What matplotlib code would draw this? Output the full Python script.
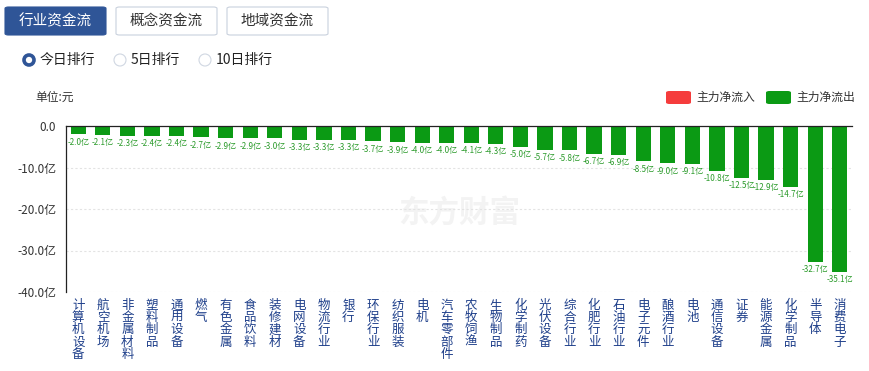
import matplotlib.pyplot as plt
from matplotlib.patches import FancyBboxPatch, Ellipse
from matplotlib.ticker import FixedLocator

plt.rcParams['font.family'] = ['Noto Sans CJK SC', 'DejaVu Sans']

industries = ['计算机设备', '航空机场', '非金属材料', '塑料制品', '通用设备', '燃气', '有色金属',
              '食品饮料', '装修建材', '电网设备', '物流行业', '银行', '环保行业', '纺织服装',
              '电机', '汽车零部件', '农牧饲渔', '生物制品', '化学制药', '光伏设备', '综合行业',
              '化肥行业', '石油行业', '电子元件', '酿酒行业', '电池', '通信设备', '证券',
              '能源金属', '化学制品', '半导体', '消费电子']
net_flow = [-2.0, -2.1, -2.3, -2.4, -2.4, -2.7, -2.9, -2.9, -3.0, -3.3, -3.3, -3.3, -3.7, -3.9,
            -4.0, -4.0, -4.1, -4.3, -5.0, -5.7, -5.8, -6.7, -6.9, -8.5, -9.0, -9.1, -10.8,
            -12.5, -12.9, -14.7, -32.7, -35.1]
y_ticks = [0, -10, -20, -30, -40]
y_tick_labels = ['0.0', '-10.0亿', '-20.0亿', '-30.0亿', '-40.0亿']
tabs = ['行业资金流', '概念资金流', '地域资金流']
ranks = ['今日排行', '5日排行', '10日排行']

W, H = 870, 371
GREEN = '#0b9a14'
RED = '#f53c3c'
BLUE = '#2f5597'


def fx(x):
    return x / W


def fy(y):
    return 1 - y / H


fig = plt.figure(figsize=(W / 100, H / 100), dpi=100)

# tab buttons
for i, name in enumerate(tabs):
    x0 = 5 + i * 111
    active = i == 0
    box = FancyBboxPatch((fx(x0), fy(35)), fx(101), 28 / H,
                         boxstyle='round,pad=0,rounding_size=0.004',
                         transform=fig.transFigure,
                         facecolor=BLUE if active else 'white',
                         edgecolor=BLUE if active else '#c9d1dd', lw=0.8)
    fig.patches.append(box)
    fig.text(fx(x0 + 50.5), fy(21), name, ha='center', va='center', fontsize=10.5,
             color='white' if active else '#333333')

# radio options
for i, (cx, tx) in enumerate([(29, 40), (120, 131), (205, 216)]):
    if i == 0:
        fig.patches.append(Ellipse((fx(cx), fy(60)), 10 / W, 10 / H, transform=fig.transFigure,
                                   facecolor='white', edgecolor=BLUE, lw=2.6))
    else:
        fig.patches.append(Ellipse((fx(cx), fy(60)), 12 / W, 12 / H, transform=fig.transFigure,
                                   facecolor='white', edgecolor='#d0d7e2', lw=0.8))
    fig.text(fx(tx), fy(60), ranks[i], ha='left', va='center', fontsize=10, color='#222222')

fig.text(fx(35), fy(97), '单位:元', ha='left', va='center', fontsize=8.5, color='#333333')

# legend
for lx, col, lab in [(666, RED, '主力净流入'), (766, GREEN, '主力净流出')]:
    fig.patches.append(FancyBboxPatch((fx(lx), fy(104)), fx(25), 13 / H,
                                      boxstyle='round,pad=0,rounding_size=0.004',
                                      transform=fig.transFigure, facecolor=col, edgecolor='none'))
    fig.text(fx(lx + 30), fy(97.5), lab, ha='left', va='center', fontsize=8.5, color='#333333')

ax = fig.add_axes([fx(66), fy(292), fx(852 - 66), (292 - 126) / H])
x = list(range(len(industries)))

# watermark
ax.text(0.5, 0.48, '东方财富', transform=ax.transAxes, ha='center', va='center',
        fontsize=22, fontweight='bold', color='#f3f3f3', zorder=0)

ax.bar(x, net_flow, width=0.62, color=GREEN, zorder=2)
for xi, v in zip(x, net_flow):
    ax.annotate('%.1f亿' % v, (xi, v), xytext=(0, -2.5), textcoords='offset points',
                ha='center', va='top', fontsize=5.8, color='#2a9a2a', zorder=3)

ax.set_xlim(-0.5, len(industries) - 0.5)
ax.set_ylim(-40, 0)
ax.yaxis.set_major_locator(FixedLocator(y_ticks))
ax.set_yticklabels(y_tick_labels)
ax.set_xticks(x)
ax.set_xticklabels(['\n'.join(n) for n in industries], linespacing=0.92)
ax.tick_params(axis='y', length=0, pad=7, labelsize=8.5, labelcolor='#333333')
ax.tick_params(axis='x', length=0, pad=5, labelsize=9, labelcolor='#1e3f8a')
for lab in ax.get_xticklabels():
    lab.set_verticalalignment('top')

for yv in y_ticks[1:]:
    ax.axhline(yv, color='#e3e3e3', lw=0.8, ls=(0, (2, 2)), zorder=1)
ax.spines['right'].set_visible(False)
ax.spines['bottom'].set_visible(False)
ax.spines['top'].set_color('#222222')
ax.spines['left'].set_color('#222222')
ax.spines['top'].set_linewidth(0.9)
ax.spines['left'].set_linewidth(0.9)
ax.set_facecolor('white')

fig.savefig('out.png', dpi=100)
